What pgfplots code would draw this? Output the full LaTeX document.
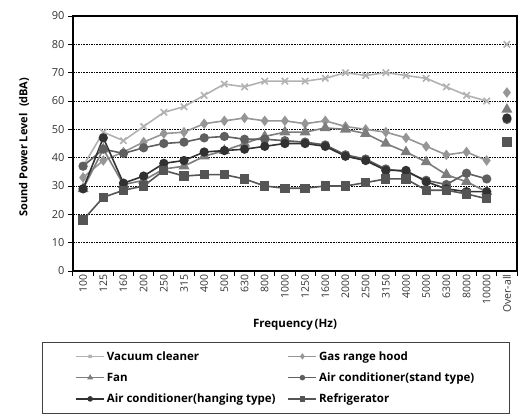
\documentclass[border=0pt]{standalone}
\usepackage{pgfplots}
\pgfplotsset{compat=1.18}
\usepackage{fontspec}
\setmainfont{Open Sans}
\definecolor{cvac}{RGB}{178,178,178}
\definecolor{cgas}{RGB}{150,150,150}
\definecolor{cfan}{RGB}{125,125,125}
\definecolor{cstand}{RGB}{95,95,95}
\definecolor{chang}{RGB}{50,50,50}
\definecolor{cfri}{RGB}{85,85,85}
\begin{document}
\begin{tikzpicture}
\begin{axis}[
  scale only axis, width=444pt, height=255pt,
  xmin=-0.5, xmax=21.5, ymin=0, ymax=90,
  axis line style={black, line width=1.4pt},
  ytick={0,10,...,90},
  /pgf/number format/assume math mode=true,
  tick label style={font=\fontsize{11}{12}\selectfont, text=black!80},
  ymajorgrids, major grid style={black, line width=0.6pt, dash pattern=on 1.6pt off 1pt},
  tick align=outside, major tick length=5pt,
  every tick/.style={black, line width=1pt},
  xtick pos=bottom, ytick pos=left,
  xtick={-0.5,0.5,...,21.5}, xticklabels={},
  extra x ticks={0,1,...,21},
  extra x tick labels={100,125,160,200,250,315,400,500,630,800,1000,1250,1600,2000,2500,3150,4000,5000,6300,8000,10000,Over-all},
  extra x tick style={major tick length=0pt, grid=none, tick label style={rotate=90, anchor=east, font=\fontsize{10.5}{12}\selectfont, text=black!80}},
  xlabel={\textbf{Frequency\,(Hz)}},
  ylabel={\textbf{Sound Power Level\,\, (dBA)}},
  xlabel style={at={(axis description cs:0.5,-0.212)}, anchor=center, font=\fontsize{11.5}{13}\selectfont},
  ylabel style={at={(axis description cs:-0.11,0.486)}, anchor=center, font=\fontsize{11}{13}\selectfont},
  unbounded coords=jump,
  legend columns=2,
  legend cell align=left,
  legend style={at={(axis description cs:-0.0698,-0.278)}, anchor=north west,
    draw=black!75, line width=0.8pt, inner xsep=33pt, inner ysep=7pt,
    font=\fontsize{11.5}{13}\selectfont\bfseries, row sep=7pt,
    /tikz/every even column/.append style={column sep=10pt}},
  legend image code/.code={\draw[#1, mark size=2pt, line width=1.5pt, mark repeat=2, mark phase=2] plot coordinates {(0pt,0pt) (14pt,0pt) (28pt,0pt)};},
]
\addplot[cvac, line width=1.6pt, mark=x, mark size=4.5pt, mark options={line width=1.6pt}] coordinates {
(0,37)(1,49)(2,46)(3,51)(4,56)(5,58)(6,62)(7,66)(8,65)(9,67)(10,67)(11,67)(12,68)(13,70)(14,69)(15,70)(16,69)(17,68)(18,65)(19,62)(20,60)(20.5,nan)(21,80)};
\addlegendentry{Vacuum cleaner}
\addplot[cgas, line width=1.6pt, mark=diamond*, mark size=4pt] coordinates {
(0,33)(1,39)(2,42)(3,45.5)(4,48.5)(5,49)(6,52)(7,53)(8,54)(9,53)(10,53)(11,52)(12,53)(13,51)(14,50)(15,49)(16,47)(17,44)(18,41)(19,42)(20,39)(20.5,nan)(21,63)};
\addlegendentry{Gas range hood}
\addplot[cfan, line width=1.6pt, mark=triangle*, mark size=4.8pt] coordinates {
(0,29)(1,43)(2,30.5)(3,32)(4,36)(5,37)(6,40.5)(7,42.5)(8,45)(9,47.5)(10,49)(11,49)(12,50.5)(13,50)(14,48.5)(15,45)(16,42)(17,38.5)(18,34)(19,31.5)(20,28)(20.5,nan)(21,57)};
\addlegendentry{Fan}
\addplot[cstand, line width=1.6pt, mark=*, mark size=3.8pt] coordinates {
(0,37)(1,43)(2,41.5)(3,43.5)(4,45)(5,45.5)(6,47)(7,47.5)(8,46.5)(9,46.5)(10,46)(11,45.5)(12,44.5)(13,41)(14,39.5)(15,36)(16,35)(17,32)(18,30.5)(19,34.5)(20,32.5)(20.5,nan)(21,53.5)};
\addlegendentry{Air conditioner(stand type)}
\addplot[chang, line width=1.6pt, mark=*, mark size=3.8pt] coordinates {
(0,29)(1,47)(2,31)(3,33.5)(4,38)(5,39)(6,42)(7,42.5)(8,43)(9,44)(10,45)(11,45)(12,44)(13,40.5)(14,39)(15,35.5)(16,35.5)(17,31.5)(18,29)(19,28)(20,28)(20.5,nan)(21,54)};
\addlegendentry{Air conditioner(hanging type)}
\addplot[cfri, line width=1.6pt, mark=square*, mark size=3.8pt] coordinates {
(0,18)(1,26)(2,28.5)(3,30)(4,35.5)(5,33.5)(6,34)(7,34)(8,32.5)(9,30)(10,29.2)(11,29.2)(12,30)(13,30)(14,31.2)(15,32.5)(16,32.5)(17,28.5)(18,28.5)(19,27.2)(20,25.5)(20.5,nan)(21,45.5)};
\addlegendentry{Refrigerator}
\end{axis}
\pgfresetboundingbox
\path (-73pt,-142pt) rectangle (445pt,271pt);
\end{tikzpicture}
\end{document}
